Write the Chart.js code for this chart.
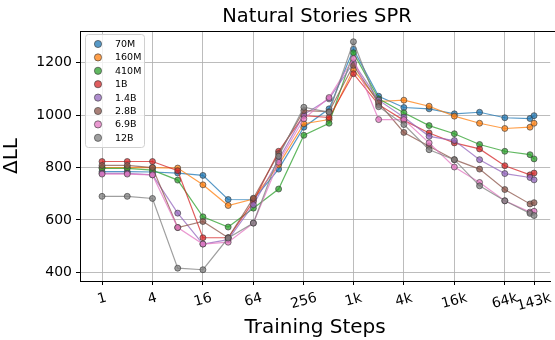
<!DOCTYPE html>
<html>
<head>
<meta charset="utf-8">
<script src="https://cdn.jsdelivr.net/npm/chart.js@4.4.0/dist/chart.umd.min.js"></script>
<style>
  html, body { margin: 0; padding: 0; background: #fff; }
</style>
</head>
<body>
<canvas id="c" width="555" height="340"></canvas>
<script>
// training checkpoints (x) and the ticks shown on the axis
const steps = [1, 2, 4, 8, 16, 32, 64, 128, 256, 512, 1000, 2000, 4000, 8000, 16000, 32000, 64000, 128000, 143000];
const tickVals = [1, 4, 16, 64, 256, 1000, 4000, 16000, 64000, 143000];
const tickLabels = ['1', '4', '16', '64', '256', '1k', '4k', '16k', '64k', '143k'];
const yTicks = [400, 600, 800, 1000, 1200];

const modelNames = ['70M', '160M', '410M', '1B', '1.4B', '2.8B', '6.9B', '12B'];
const colors = ['#1f77b4', '#ff7f0e', '#2ca02c', '#d62728', '#9467bd', '#8c564b', '#e377c2', '#7f7f7f'];

// delta log-likelihood per model
const ll70M  = [784, 784, 783, 779, 770, 678, 677, 794, 954, 1024, 1251, 1072, 1029, 1024, 1005, 1011, 990, 987, 998];
const ll160M = [800, 800, 800, 798, 734, 655, 680, 810, 967, 983, 1174, 1052, 1057, 1034, 996, 969, 949, 954, 969];
const ll410M = [797, 797, 790, 752, 612, 573, 645, 718, 923, 969, 1238, 1062, 1009, 960, 929, 888, 862, 849, 833];
const ll1B   = [823, 823, 823, 788, 532, 532, 670, 862, 998, 991, 1158, 1040, 980, 932, 894, 871, 807, 772, 779];
const ll1_4B = [778, 778, 772, 626, 508, 525, 658, 830, 1002, 1062, 1200, 1057, 992, 919, 903, 830, 777, 762, 753];
const ll2_8B = [808, 808, 800, 571, 594, 532, 683, 853, 1017, 1013, 1190, 1047, 934, 881, 830, 794, 716, 661, 666];
const ll6_9B = [775, 775, 772, 571, 508, 515, 588, 820, 986, 1067, 1216, 983, 983, 894, 802, 743, 673, 630, 633];
const ll12B  = [690, 690, 682, 416, 410, 531, 588, 843, 1030, 1011, 1280, 1032, 964, 868, 830, 730, 673, 625, 617];

const series = [ll70M, ll160M, ll410M, ll1B, ll1_4B, ll2_8B, ll6_9B, ll12B];

const FONT = 'DejaVu Sans';

function alpha(hex, a) {
    const n = parseInt(hex.slice(1), 16);
    return 'rgba(' + (n >> 16) + ',' + ((n >> 8) & 255) + ',' + (n & 255) + ',' + a + ')';
}

const datasets = series.map(function(vals, i) {
    return {
        label: modelNames[i],
        data: vals.map(function(v, j) { return { x: steps[j], y: v }; }),
        borderColor: alpha(colors[i], 0.75),
        backgroundColor: alpha(colors[i], 0.75),
        pointBorderColor: 'rgba(60,60,60,0.8)',
        pointBorderWidth: 0.8,
        pointRadius: 3,
        borderWidth: 1.2,
        tension: 0,
        order: series.length - i
    };
});

// top spine, title, rotated x tick labels and the legend box
const decor = {
    id: 'decor',
    afterDraw(chart) {
        const ctx = chart.ctx;
        const a = chart.chartArea;
        const xs = chart.scales.x;

        ctx.save();
        ctx.strokeStyle = '#000';
        ctx.lineWidth = 1;
        ctx.beginPath();
        ctx.moveTo(a.left, Math.round(a.top) + 0.5);
        ctx.lineTo(555, Math.round(a.top) + 0.5);
        ctx.stroke();

        ctx.fillStyle = '#000';
        ctx.font = '19.5px "' + FONT + '"';
        ctx.textAlign = 'center';
        ctx.textBaseline = 'middle';
        ctx.fillText('Natural Stories SPR', 317, 17);

        const rot = 15 * Math.PI / 180;
        ctx.font = '14px "' + FONT + '"';
        tickLabels.forEach(function(t, i) {
            const x = xs.getPixelForValue(tickVals[i]);
            const w = ctx.measureText(t).width;
            const h = 14;
            const bh = w * Math.sin(rot) + h * Math.cos(rot);
            ctx.save();
            ctx.translate(x, a.bottom + 10 + bh / 2);
            ctx.rotate(-rot);
            ctx.fillText(t, 0, 0);
            ctx.restore();
        });

        // legend
        const lx = 85, ly = 34, lw = 59, lh = 113;
        ctx.beginPath();
        ctx.roundRect(lx + 0.5, ly + 0.5, lw, lh, 3);
        ctx.fillStyle = 'rgba(255,255,255,0.8)';
        ctx.fill();
        ctx.strokeStyle = '#d0d0d0';
        ctx.lineWidth = 1;
        ctx.stroke();

        ctx.font = '9.5px "' + FONT + '"';
        ctx.textAlign = 'left';
        modelNames.forEach(function(name, i) {
            const y = 44 + i * 13.4;
            ctx.beginPath();
            ctx.arc(98, y, 3.6, 0, Math.PI * 2);
            ctx.fillStyle = alpha(colors[i], 0.75);
            ctx.fill();
            ctx.strokeStyle = 'rgba(60,60,60,0.8)';
            ctx.lineWidth = 0.8;
            ctx.stroke();
            ctx.fillStyle = '#000';
            ctx.fillText(name, 115, y + 0.5);
        });
        ctx.restore();
    }
};

new Chart(document.getElementById('c'), {
    type: 'line',
    data: { datasets: datasets },
    options: {
        responsive: false,
        animation: false,
        layout: { padding: { top: 31, right: 0, left: 0, bottom: 0 } },
        plugins: {
            legend: { display: false },
            title: { display: false },
            tooltip: { enabled: false }
        },
        scales: {
            x: {
                type: 'logarithmic',
                min: 0.546,
                max: 222800,
                afterBuildTicks: function(s) {
                    s.ticks = tickVals.map(function(v) { return { value: v }; });
                },
                afterFit: function(s) { s.height = 59; },
                ticks: { display: false },
                grid: { color: 'rgba(176,176,176,0.85)', lineWidth: 1, tickLength: 4, tickColor: '#000' },
                border: { display: true, color: '#000', width: 1 },
                title: {
                    display: true,
                    text: 'Training Steps',
                    color: '#000',
                    font: { family: FONT, size: 20 },
                    padding: { top: 0, bottom: 0 }
                }
            },
            y: {
                min: 367,
                max: 1321,
                afterBuildTicks: function(s) {
                    s.ticks = yTicks.map(function(v) { return { value: v }; });
                },
                afterFit: function(s) { s.width = 80; },
                ticks: {
                    color: '#000',
                    font: { family: FONT, size: 14 },
                    padding: 4,
                    callback: function(v) { return String(v); }
                },
                grid: { color: 'rgba(176,176,176,0.85)', lineWidth: 1, tickLength: 4, tickColor: '#000' },
                border: { display: true, color: '#000', width: 1 },
                title: {
                    display: true,
                    text: 'ΔLL',
                    color: '#000',
                    font: { family: FONT, size: 20 },
                    padding: { top: 0, bottom: 0 }
                }
            }
        }
    },
    plugins: [decor]
});
</script>
</body>
</html>
